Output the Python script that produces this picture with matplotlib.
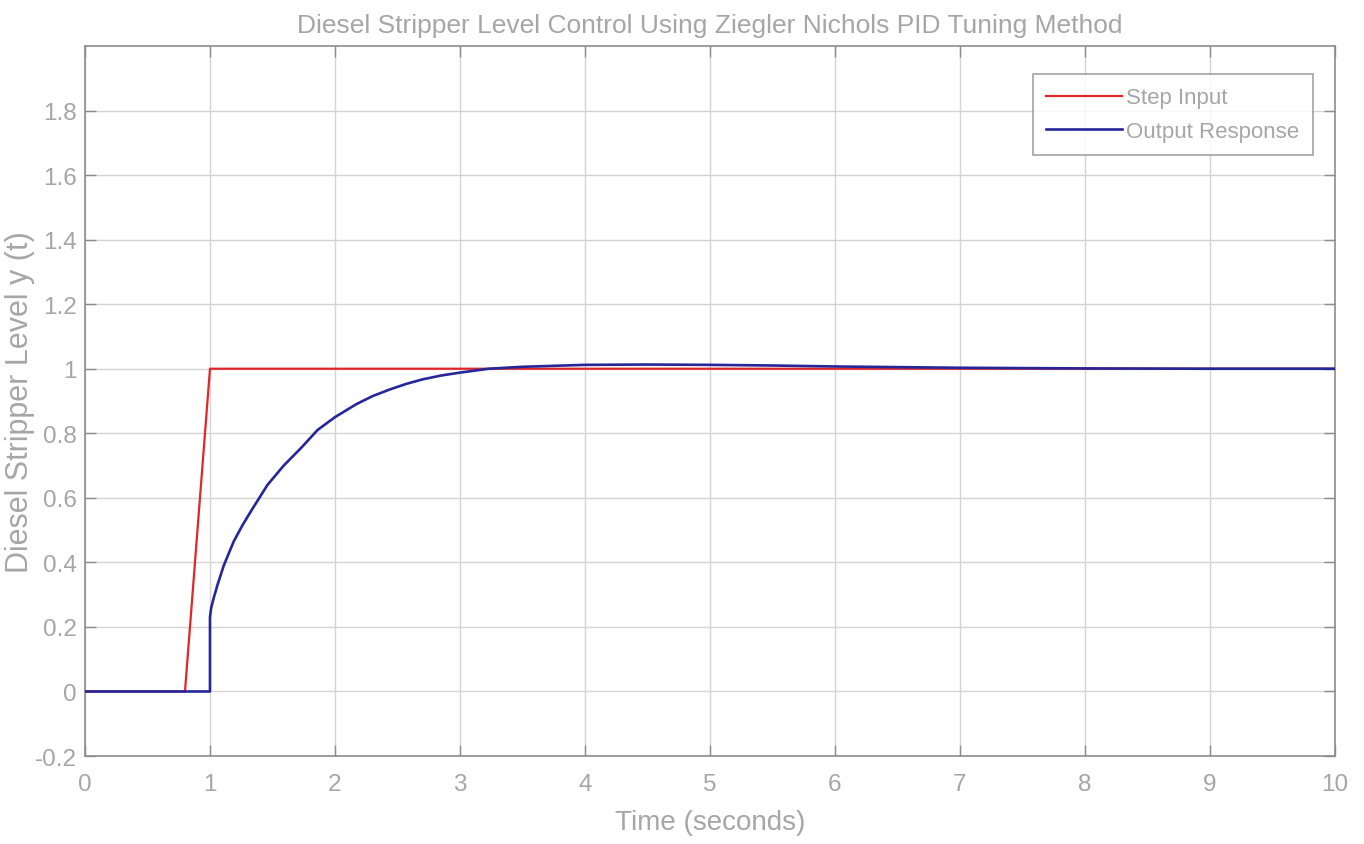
import matplotlib
matplotlib.use("Agg")
import matplotlib.pyplot as plt

# ---- data ----
step_t = [0.0, 0.8, 1.0, 10.0]
step_y = [0.0, 0.0, 1.0, 1.0]

resp_t = [0.0, 1.0, 1.0, 1.01, 1.03, 1.06, 1.11, 1.19, 1.26, 1.33, 1.46, 1.59,
          1.73, 1.86, 2.0, 2.17, 2.3, 2.44, 2.57, 2.7, 2.85,
          3.0, 3.23, 3.5, 4.0, 4.5, 5.0, 5.5, 6.0, 7.0, 8.0, 9.0, 10.0]
resp_y = [0.0, 0.0, 0.23, 0.26, 0.29, 0.33, 0.39, 0.465, 0.515, 0.56, 0.64, 0.70,
          0.755, 0.81, 0.85, 0.89, 0.915, 0.936, 0.953, 0.967, 0.979,
          0.988, 1.0, 1.006, 1.012, 1.013, 1.012, 1.01, 1.007, 1.003, 1.001, 1.0, 1.0]

xticks = [0, 1, 2, 3, 4, 5, 6, 7, 8, 9, 10]
yticks = [-0.2, 0, 0.2, 0.4, 0.6, 0.8, 1, 1.2, 1.4, 1.6, 1.8]
ytick_labels = ["-0.2", "0", "0.2", "0.4", "0.6", "0.8", "1", "1.2", "1.4", "1.6", "1.8"]

title = "Diesel Stripper Level Control Using Ziegler Nichols PID Tuning Method"
xlabel = "Time (seconds)"
ylabel = "Diesel Stripper Level y (t)"
legend_labels = ["Step Input", "Output Response"]

# ---- style ----
font = "Liberation Sans"
txt = "#a6a6a6"

fig = plt.figure(figsize=(13.64, 8.45), dpi=100)
ax = fig.add_axes([0.0623, 0.1041, 0.9164, 0.8403])

ax.plot(step_t, step_y, color="#e0262b", lw=1.6, label=legend_labels[0], zorder=3)
ax.plot(resp_t, resp_y, color="#26269a", lw=1.9, label=legend_labels[1], zorder=4)

ax.set_xlim(0, 10)
ax.set_ylim(-0.2, 2.0)
ax.set_xticks(xticks)
ax.set_xticklabels([str(v) for v in xticks])
ax.set_yticks(yticks)
ax.set_yticklabels(ytick_labels)
ax.grid(True, color="#d4d4d4", lw=1.0)
ax.set_axisbelow(True)

for s in ax.spines.values():
    s.set_color("#8c8c8c")
    s.set_linewidth(1.2)
ax.tick_params(direction="in", length=8, width=1, color="#8c8c8c",
               top=True, right=True, labelcolor=txt, labelsize=17.5)
ax.tick_params(axis="x", pad=12)
ax.tick_params(axis="y", pad=6)
for lab in ax.get_xticklabels() + ax.get_yticklabels():
    lab.set_fontfamily(font)

ax.set_title(title, color=txt, fontsize=19, fontfamily=font, pad=10)
ax.set_xlabel(xlabel, color=txt, fontsize=20, fontfamily=font, labelpad=10)
ax.set_ylabel(ylabel, color=txt, fontsize=22, fontfamily=font)
ax.yaxis.set_label_coords(-0.040, 0.5)

leg = ax.legend(loc="upper right", bbox_to_anchor=(0.9824, 0.9606), frameon=True,
                fancybox=False, prop={"family": font, "size": 16},
                handlelength=3.4, handletextpad=0.2, borderpad=0.6, labelspacing=0.55,
                borderaxespad=0)
leg.get_frame().set_edgecolor("#8c8c8c")
leg.get_frame().set_linewidth(1.2)
for t in leg.get_texts():
    t.set_color(txt)

fig.savefig("out.png", dpi=100)
